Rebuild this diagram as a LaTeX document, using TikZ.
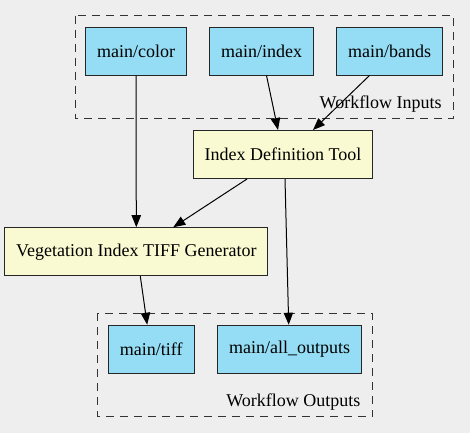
\documentclass[tikz,border=0pt]{standalone}
\usepackage{fontspec}
\setmainfont{Liberation Serif}
\usepackage{xcolor}
\usetikzlibrary{arrows.meta}

\definecolor{bgrey}{HTML}{EEEEEE}
\definecolor{ioblue}{HTML}{94DDF4}
\definecolor{stepyellow}{HTML}{FAFAD2}

\tikzset{
  iobox/.style={draw=black!85, fill=ioblue, line width=0.75pt, minimum height=36pt, inner sep=0pt, font=\fontsize{13.5}{15}\selectfont},
  stepbox/.style={iobox, fill=stepyellow},
  cluster/.style={draw=black!80, dashed, dash pattern=on 6pt off 4.5pt, line width=0.75pt},
  flow/.style={-{Triangle[length=9pt,width=7pt]}, line width=0.75pt},
  clusterlabel/.style={font=\fontsize{13.5}{15}\selectfont, inner sep=0pt}
}

\begin{document}
\begin{tikzpicture}[x=0.75pt, y=-0.75pt]
\fill[bgrey] (0,0) rectangle (470,433);
\useasboundingbox (0,0) rectangle (470,433);

% clusters
\draw[cluster] (75,15.7) rectangle (453.3,118.7);
\node[clusterlabel, anchor=base east] (inlabel) at (442,108) {Workflow Inputs};
\draw[cluster] (97.3,313.3) rectangle (372.7,416.7);
\node[clusterlabel, anchor=base east] (outlabel) at (360.7,406.7) {Workflow Outputs};

% inputs
\node[iobox, minimum width=75.5pt] (color) at (136,51) {main/color};
\node[iobox, minimum width=77.3pt] (index) at (261.5,51) {main/index};
\node[iobox, minimum width=79.2pt] (bands) at (389.5,51) {main/bands};

% steps
\node[stepbox, minimum width=134.5pt] (idt) at (283,154.5) {Index Definition Tool};
\node[stepbox, minimum width=197pt] (vitg) at (136.3,251.7) {Vegetation Index TIFF Generator};

% outputs
\node[iobox, minimum width=64.3pt] (tiff) at (151.2,349.2) {main/tiff};
\node[iobox, minimum width=108pt] (allout) at (289.7,349.2) {main/all\_outputs};

% edges
\draw[flow] (color.south) -- (vitg.north);
\draw[flow] ([xshift=3.75pt]index.south) -- ([xshift=-3.75pt]idt.north);
\draw[flow] ([xshift=-15pt]bands.south) -- ([xshift=22.5pt]idt.north);
\draw[flow] ([xshift=-27pt]idt.south) -- ([xshift=27.75pt]vitg.north);
\draw[flow] ([xshift=1.5pt]idt.south) -- ([xshift=-0.75pt]allout.north);
\draw[flow] ([xshift=3pt]vitg.south) -- ([xshift=-3pt]tiff.north);
\end{tikzpicture}
\end{document}
